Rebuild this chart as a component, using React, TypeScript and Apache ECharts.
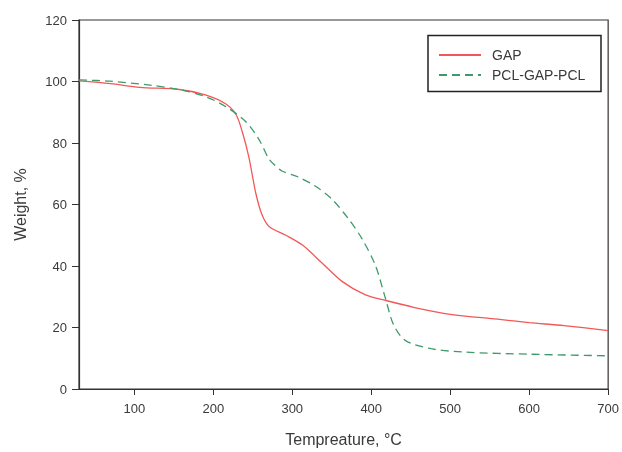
import React, { useEffect, useRef } from "react";
import * as echarts from "echarts";

const gapTemp = [30, 70, 107, 157, 191, 216, 229, 237, 245, 254, 262, 271, 292, 313, 338, 363, 392, 420, 455, 500, 560, 600, 644, 700];
const gapWeight = [100.2, 99.3, 98.1, 97.4, 95.6, 92.7, 89.2, 83.4, 75.5, 63.5, 56.5, 52.8, 50, 46.8, 40.9, 35, 30.7, 28.7, 26.5, 24.3, 22.7, 21.6, 20.6, 19.0];

const pclTemp = [30, 69, 120, 157, 191, 216, 241, 258, 270, 277, 287, 308, 329, 350, 371, 388, 405, 418, 428, 443, 476, 518, 602, 700];
const pclWeight = [100.5, 100.1, 98.8, 97.4, 95, 91.8, 87, 81.1, 75, 73, 70.9, 68.9, 66, 61.8, 55.4, 49, 40.4, 29.5, 21.1, 15.8, 13.1, 12.0, 11.3, 10.8];

const xTicks = [100, 200, 300, 400, 500, 600, 700];
const seriesNames = ["GAP", "PCL-GAP-PCL"];

export default function App() {
  const ref = useRef<HTMLDivElement>(null);
  useEffect(() => {
    if (!ref.current) return;
    const chart = echarts.init(ref.current, null, { renderer: "svg" });
    const font = "'Liberation Sans', Arial, sans-serif";
    const textColor = "#3a3a3a";
    chart.setOption({
      animation: false,
      textStyle: { fontFamily: font },
      grid: {
        left: 79,
        right: 11,
        top: 20,
        bottom: 60,
        show: true,
        borderColor: "#333",
        borderWidth: 1.2,
      },
      legend: {
        orient: "vertical",
        left: 438,
        top: 48,
        padding: 0,
        itemWidth: 42,
        itemHeight: 14,
        itemGap: 6,
        itemStyle: { opacity: 0 },
        textStyle: { fontSize: 14, color: textColor, fontFamily: font, padding: [0, 0, 0, 6] },
        data: seriesNames,
      },
      graphic: [
        {
          type: "rect",
          shape: { x: 428, y: 35.5, width: 173, height: 56 },
          style: { fill: "none", stroke: "#222", lineWidth: 1.5 },
          z: 10,
        },
      ],
      xAxis: {
        type: "value",
        min: 30,
        max: 700,
        name: "Tempreature, °C",
        nameLocation: "middle",
        nameGap: 42,
        nameTextStyle: { fontSize: 16, color: textColor, fontFamily: font },
        axisLine: { show: true, onZero: false, lineStyle: { color: "#333", width: 1.2 } },
        axisTick: { show: true, length: 6, customValues: xTicks, lineStyle: { color: "#333" } },
        axisLabel: { customValues: xTicks, margin: 13, fontSize: 13, color: textColor, fontFamily: font },
        splitLine: { show: false },
      },
      yAxis: {
        type: "value",
        min: 0,
        max: 120,
        interval: 20,
        name: "Weight, %",
        nameLocation: "middle",
        nameGap: 51,
        nameTextStyle: { fontSize: 16, color: textColor, fontFamily: font },
        axisLine: { show: true, lineStyle: { color: "#333", width: 1.2 } },
        axisTick: { show: true, length: 7, lineStyle: { color: "#333" } },
        axisLabel: { margin: 12, fontSize: 13, color: textColor, fontFamily: font },
        splitLine: { show: false },
      },
      series: [
        {
          name: seriesNames[0],
          type: "line",
          symbol: "none",
          smooth: 0.3,
          lineStyle: { color: "#f25858", width: 1.3 },
          itemStyle: { color: "#f25858" },
          data: gapTemp.map((t, i) => [t, gapWeight[i]]),
        },
        {
          name: seriesNames[1],
          type: "line",
          symbol: "none",
          smooth: 0.3,
          lineStyle: { color: "#3f9a6b", width: 1.3, type: [8, 5] },
          itemStyle: { color: "#3f9a6b" },
          data: pclTemp.map((t, i) => [t, pclWeight[i]]),
        },
      ],
    });
    return () => chart.dispose();
  }, []);
  return <div ref={ref} style={{ position: "fixed", left: 0, top: 0, width: 622, height: 452 }} />;
}
